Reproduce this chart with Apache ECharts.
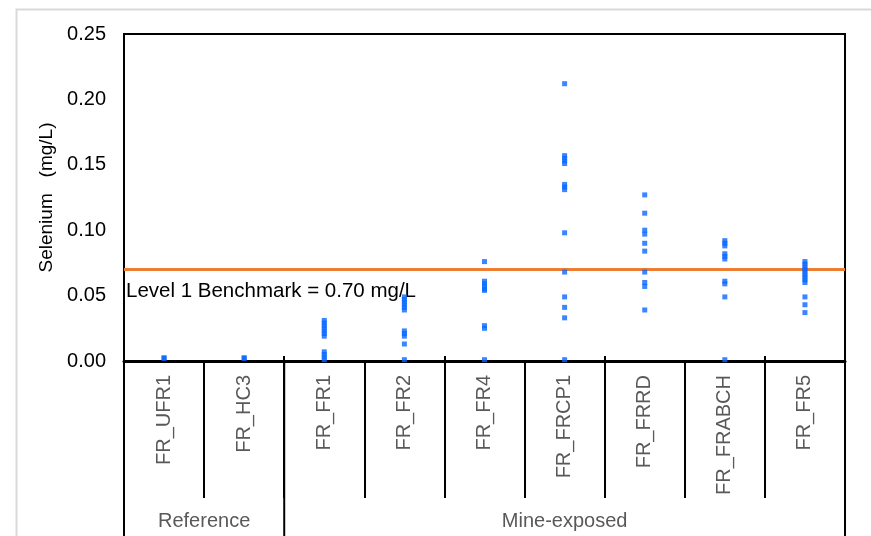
<!DOCTYPE html>
<html>
<head>
<meta charset="utf-8">
<script src="https://cdn.jsdelivr.net/npm/echarts@6/dist/echarts.min.js"></script>
<style>
  html, body { margin: 0; padding: 0; background: #fff; }
  #chart { width: 871px; height: 536px; }
</style>
</head>
<body>
<div id="chart"></div>
<script>
// ---- data ----
const categories = ['FR_UFR1', 'FR_HC3', 'FR_FR1', 'FR_FR2', 'FR_FR4', 'FR_FRCP1', 'FR_FRRD', 'FR_FRABCH', 'FR_FR5'];
const groupNames = ['Reference', 'Mine-exposed'];
const groupSizes = [2, 7];
const yTicks = [0, 0.05, 0.10, 0.15, 0.20, 0.25];
const benchmark = 0.069;
const benchmarkLabel = 'Level 1 Benchmark = 0.70 mg/L';

const fr_ufr1 = [0.0025, 0.002];
const fr_hc3 = [0.0025, 0.002];
const fr_fr1 = [0.031, 0.029, 0.027, 0.025, 0.023, 0.021, 0.019, 0.007, 0.005, 0.003, 0.001];
const fr_fr2 = [0.049, 0.047, 0.045, 0.043, 0.041, 0.039, 0.023, 0.021, 0.019, 0.013, 0.001];
const fr_fr4 = [0.076, 0.061, 0.059, 0.057, 0.055, 0.054, 0.027, 0.025, 0.001];
const fr_frcp1 = [0.212, 0.157, 0.155, 0.153, 0.151, 0.135, 0.133, 0.131, 0.098, 0.068, 0.049, 0.041, 0.033, 0.001];
const fr_frrd = [0.127, 0.113, 0.100, 0.097, 0.090, 0.084, 0.068, 0.060, 0.057, 0.039];
const fr_frabch = [0.092, 0.090, 0.088, 0.082, 0.080, 0.078, 0.061, 0.059, 0.049, 0.001];
const fr_fr5 = [0.076, 0.074, 0.072, 0.070, 0.068, 0.066, 0.064, 0.062, 0.060, 0.049, 0.043, 0.037];

const stationValues = [fr_ufr1, fr_hc3, fr_fr1, fr_fr2, fr_fr4, fr_frcp1, fr_frrd, fr_frabch, fr_fr5];

// ---- build ----
const scatterData = [];
stationValues.forEach(function (arr, i) {
  arr.forEach(function (v) { scatterData.push([categories[i], v]); });
});

const FONT = '"Liberation Sans", Arial, sans-serif';
const chart = echarts.init(document.getElementById('chart'), null, { renderer: 'canvas' });

const option = {
  animation: false,
  backgroundColor: '#fff',
  grid: {
    left: 124, right: 26, top: 34, bottom: 175,
    show: true, borderColor: '#000', borderWidth: 2, backgroundColor: 'transparent'
  },
  xAxis: [
    {
      type: 'category', data: categories, position: 'bottom', boundaryGap: true,
      axisLine: { show: true, lineStyle: { color: '#000', width: 3 } },
      axisTick: { show: true, inside: false, length: 137, lineStyle: { color: '#000', width: 2 } },
      axisLabel: { rotate: 90, margin: 14, fontSize: 20, color: '#595959', fontFamily: FONT, interval: 0 },
      splitLine: { show: false }
    },
    {
      type: 'category', data: categories, position: 'bottom', boundaryGap: true,
      axisLine: { show: false },
      axisTick: { show: true, inside: true, length: 5, lineStyle: { color: '#000', width: 2 } },
      axisLabel: { show: false },
      splitLine: { show: false }
    }
  ],
  yAxis: {
    type: 'value', min: yTicks[0], max: yTicks[yTicks.length - 1], interval: 0.05,
    name: 'Selenium   (mg/L)', nameLocation: 'middle', nameGap: 61, nameRotate: 90,
    nameTextStyle: { fontSize: 19, color: '#000', fontFamily: FONT },
    axisLine: { show: true, lineStyle: { color: '#000', width: 2 } },
    axisTick: { show: false },
    splitLine: { show: false },
    axisLabel: {
      fontSize: 20, color: '#000', fontFamily: FONT, margin: 18,
      formatter: function (v) { return v.toFixed(2); }
    }
  },
  series: [
    {
      type: 'scatter', xAxisIndex: 0, symbol: 'rect', symbolSize: 5,
      itemStyle: { color: '#0A66FF' }, clip: false, z: 5,
      data: scatterData,
      markLine: {
        silent: true, symbol: 'none',
        lineStyle: { color: '#ED7D31', width: 3, type: 'solid' },
        label: {
          show: true, position: 'insideStartBottom', formatter: benchmarkLabel,
          fontSize: 20.5, color: '#000', fontFamily: FONT, distance: [2, 11]
        },
        data: [{ yAxis: benchmark }]
      }
    }
  ]
};
chart.setOption(option);

// group separators and labels derived from the category axis
const c0 = chart.convertToPixel({ xAxisIndex: 0 }, categories[0]);
const c1 = chart.convertToPixel({ xAxisIndex: 0 }, categories[1]);
const band = c1 - c0;
const yBase = chart.convertToPixel({ yAxisIndex: 0 }, 0);
const graphics = [
  { type: 'rect', left: 14, top: 7, shape: { width: 900, height: 600 },
    style: { fill: 'none', stroke: '#D9D9D9', lineWidth: 2 }, silent: true, z: -1 }
];
let startIdx = 0;
const bounds = [c0 - band / 2];
groupSizes.forEach(function (n, g) {
  const xs = c0 + (startIdx - 0.5) * band;
  const xe = c0 + (startIdx + n - 0.5) * band;
  bounds.push(xe);
  graphics.push({
    type: 'text', x: (xs + xe) / 2, y: 521,
    style: { text: groupNames[g], fill: '#595959', font: '20px ' + FONT, align: 'center', verticalAlign: 'middle' }
  });
  startIdx += n;
});
bounds.forEach(function (x) {
  graphics.push({ type: 'line', shape: { x1: x, y1: yBase, x2: x, y2: 540 },
    style: { stroke: '#000', lineWidth: 2 }, silent: true });
});
chart.setOption({ graphic: graphics });
</script>
</body>
</html>
